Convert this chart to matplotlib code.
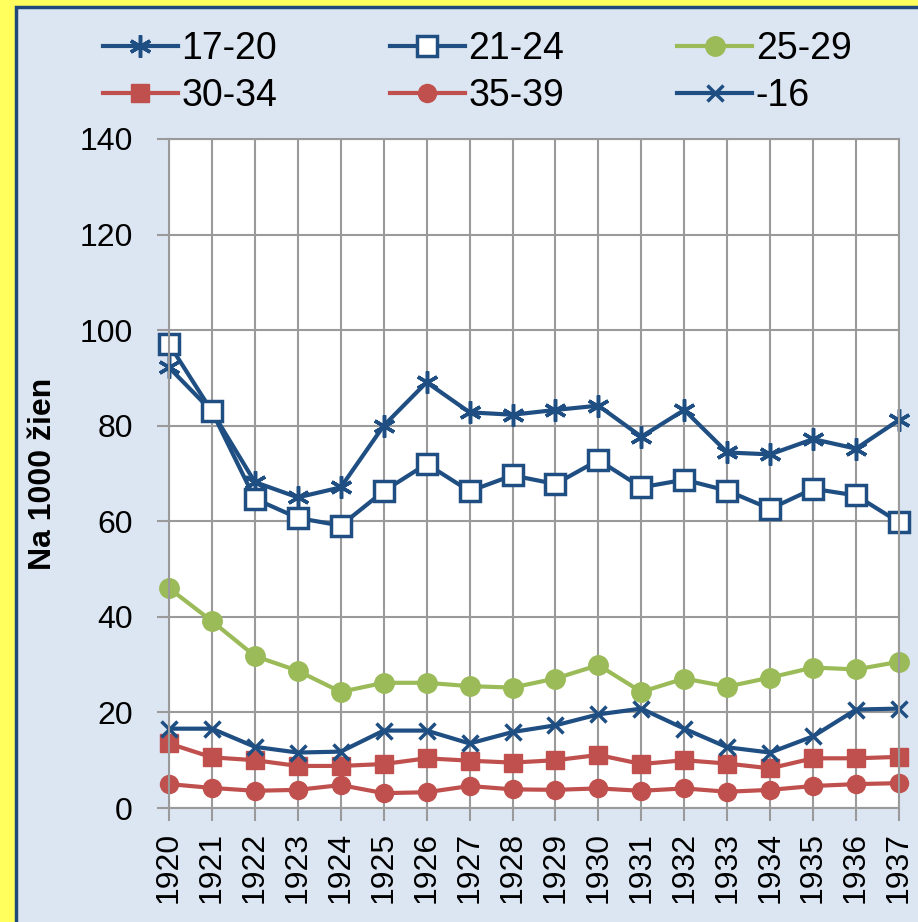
import matplotlib.pyplot as plt
from matplotlib.patches import Rectangle

years = list(range(1920, 1938))

s17_20 = [92.2, 83.0, 68.2, 65.0, 67.1, 80.0, 89.1, 82.8, 82.3,
          83.3, 84.2, 77.7, 83.3, 74.4, 74.0, 77.2, 75.2, 81.2]
s21_24 = [97.1, 83.0, 64.7, 60.7, 59.1, 66.3, 72.0, 66.3, 69.6,
          67.8, 72.8, 67.1, 68.7, 66.4, 62.6, 66.8, 65.4, 59.8]
s25_29 = [46.0, 39.1, 31.8, 28.7, 24.3, 26.2, 26.2, 25.5, 25.2,
          27.1, 29.9, 24.3, 27.1, 25.4, 27.3, 29.4, 29.0, 30.6]
s30_34 = [13.5, 10.6, 10.0, 8.8, 8.8, 9.2, 10.4, 9.9, 9.5,
          10.0, 11.1, 9.2, 10.0, 9.3, 8.3, 10.4, 10.4, 10.7]
s35_39 = [5.0, 4.2, 3.6, 3.8, 4.8, 3.1, 3.3, 4.6, 3.9,
          3.8, 4.1, 3.6, 4.1, 3.4, 3.8, 4.6, 5.0, 5.2]
s_16 = [16.6, 16.6, 12.8, 11.6, 11.8, 16.2, 16.2, 13.5, 15.9,
        17.3, 19.6, 20.8, 16.6, 12.7, 11.6, 15.0, 20.6, 20.8]

BLUE = "#1F4E82"
GREEN = "#9BBB59"
RED = "#C0504D"
PANEL = "#DCE6F2"
YELLOW = "#FFFF5E"
GRID = "#9A9A9A"

fig = plt.figure(figsize=(9.18, 9.22), dpi=100, facecolor=YELLOW)
fig.patches.append(Rectangle((16 / 918, -0.05), 1.1, 1.05 - 7 / 922,
                             transform=fig.transFigure, facecolor=PANEL,
                             edgecolor="#1F497D", lw=2.5, zorder=-5))

ax = fig.add_axes([169 / 918, 1 - 808 / 922, 730 / 918, 669 / 922])
ax.set_facecolor("white")

common = dict(lw=3.0, clip_on=False)
h1, = ax.plot(years, s17_20, color=BLUE, marker=(6, 2, 0), ms=16, mew=2.5,
              label="17-20", **common)
h2, = ax.plot(years, s21_24, color=BLUE, marker="s", ms=14, mew=2.5,
              mfc="white", mec=BLUE, label="21-24", **common)
h3, = ax.plot(years, s25_29, color=GREEN, marker="o", ms=14, label="25-29",
              **common)
h4, = ax.plot(years, s30_34, color=RED, marker="s", ms=12.5, label="30-34",
              **common)
h5, = ax.plot(years, s35_39, color=RED, marker="o", ms=13, label="35-39",
              **common)
h6, = ax.plot(years, s_16, color=BLUE, marker="x", ms=11, mew=2.5,
              label="-16", **common)

ax.set_xlim(1920, 1937)
ax.set_ylim(0, 140)
ax.set_xticks(years)
ax.set_yticks(range(0, 141, 20))
ax.grid(True, color=GRID, lw=1.5)
ax.set_axisbelow(True)
for sp in ax.spines.values():
    sp.set_color(GRID)
    sp.set_linewidth(1.5)
ax.tick_params(axis="both", direction="out", length=9, width=1.5, color=GRID,
               labelsize=23)
ax.tick_params(axis="y", pad=17)
ax.tick_params(axis="x", labelrotation=90, pad=8)
for lbl in ax.get_xticklabels() + ax.get_yticklabels():
    lbl.set_family(["Liberation Sans", "DejaVu Sans"])

ax.set_ylabel("Na 1000 žien", fontsize=23, fontweight="bold",
              family=["Liberation Sans", "DejaVu Sans"])
ax.yaxis.set_label_coords(-0.152, 0.5)

# legend is filled column by column, so interleave to get row order
handles = [h1, h4, h2, h5, h3, h6]
fig.legend(handles, [h.get_label() for h in handles],
           loc="upper left", bbox_to_anchor=(84 / 918, 1 - 12 / 922), ncol=3,
           frameon=False, handlelength=2.0, handletextpad=0.1,
           columnspacing=3.0, labelspacing=0.3, borderpad=0,
           prop={"family": ["Liberation Sans Narrow", "Liberation Sans"],
                 "size": 27})

fig.savefig("out.png", dpi=100, facecolor=YELLOW)
